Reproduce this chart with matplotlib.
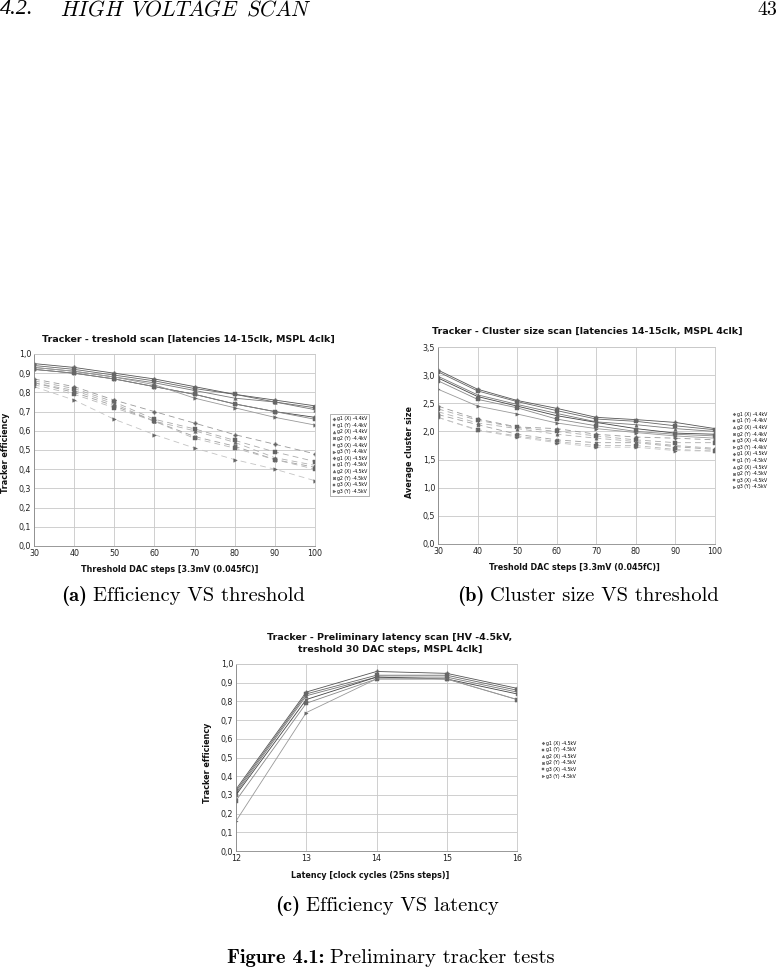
import matplotlib
matplotlib.use("Agg")
import matplotlib.pyplot as plt
from matplotlib.ticker import FuncFormatter, MultipleLocator

plt.rcParams["mathtext.fontset"] = "cm"

W, H = 777, 977

# ---- data: (a) efficiency vs threshold ----
thr = [30, 40, 50, 60, 70, 80, 90, 100]
labels_ab = ["g1 (X) -4.4kV", "g1 (Y) -4.4kV", "g2 (X) -4.4kV", "g2 (Y) -4.4kV",
             "g3 (X) -4.4kV", "g3 (Y) -4.4kV", "g1 (X) -4.5kV", "g1 (Y) -4.5kV",
             "g2 (X) -4.5kV", "g2 (Y) -4.5kV", "g3 (X) -4.5kV", "g3 (Y) -4.5kV"]

eff_44 = [
    [0.87, 0.83, 0.76, 0.70, 0.64, 0.58, 0.53, 0.48],
    [0.86, 0.82, 0.75, 0.66, 0.61, 0.55, 0.49, 0.44],
    [0.85, 0.81, 0.74, 0.65, 0.60, 0.54, 0.46, 0.42],
    [0.85, 0.80, 0.73, 0.65, 0.57, 0.52, 0.45, 0.41],
    [0.84, 0.79, 0.72, 0.65, 0.56, 0.51, 0.45, 0.40],
    [0.83, 0.76, 0.66, 0.58, 0.51, 0.45, 0.40, 0.34],
]
eff_45 = [
    [0.95, 0.93, 0.90, 0.87, 0.83, 0.79, 0.76, 0.73],
    [0.94, 0.92, 0.89, 0.86, 0.82, 0.79, 0.75, 0.72],
    [0.93, 0.91, 0.88, 0.85, 0.81, 0.77, 0.75, 0.71],
    [0.92, 0.90, 0.87, 0.83, 0.79, 0.74, 0.70, 0.67],
    [0.92, 0.90, 0.87, 0.83, 0.79, 0.74, 0.70, 0.66],
    [0.93, 0.91, 0.88, 0.84, 0.77, 0.72, 0.67, 0.63],
]

# ---- data: (b) cluster size vs threshold ----
cls_44 = [
    [2.45, 2.22, 2.08, 2.05, 1.95, 1.90, 1.88, 1.85],
    [2.40, 2.20, 2.07, 2.00, 1.92, 1.85, 1.80, 1.80],
    [2.35, 2.15, 2.05, 1.95, 1.88, 1.82, 1.75, 1.70],
    [2.30, 2.12, 1.95, 1.85, 1.80, 1.80, 1.73, 1.68],
    [2.25, 2.03, 1.92, 1.82, 1.75, 1.75, 1.68, 1.65],
    [2.25, 2.02, 1.90, 1.80, 1.72, 1.72, 1.66, 1.65],
]
cls_45 = [
    [3.09, 2.75, 2.55, 2.41, 2.25, 2.21, 2.16, 2.05],
    [3.06, 2.72, 2.53, 2.37, 2.22, 2.18, 2.10, 2.03],
    [2.98, 2.65, 2.48, 2.32, 2.17, 2.12, 2.05, 2.00],
    [2.95, 2.62, 2.45, 2.28, 2.16, 2.05, 1.97, 1.95],
    [2.90, 2.57, 2.42, 2.22, 2.10, 2.00, 1.95, 1.92],
    [2.75, 2.45, 2.31, 2.15, 2.05, 1.98, 1.92, 1.88],
]

# ---- data: (c) efficiency vs latency ----
lat = [12, 13, 14, 15, 16]
labels_c = ["g1 (X) -4.5kV", "g1 (Y) -4.5kV", "g2 (X) -4.5kV",
            "g2 (Y) -4.5kV", "g3 (X) -4.5kV", "g3 (Y) -4.5kV"]
eff_lat = [
    [0.33, 0.85, 0.96, 0.95, 0.87],
    [0.32, 0.84, 0.94, 0.94, 0.86],
    [0.31, 0.83, 0.93, 0.93, 0.85],
    [0.30, 0.81, 0.93, 0.92, 0.84],
    [0.27, 0.79, 0.92, 0.92, 0.81],
    [0.16, 0.74, 0.92, 0.92, 0.81],
]

markers = ["P", "s", "^", "X", "s", ">"]
dark = ["#555555", "#666666", "#777777", "#444444", "#888888", "#999999"]
light = ["#999999", "#aaaaaa", "#b0b0b0", "#a0a0a0", "#b8b8b8", "#c4c4c4"]

comma = FuncFormatter(lambda v, p: f"{v:.1f}".replace(".", ","))

TITLE_FS = 6.8
LABEL_FS = 5.8
CAP_FS = 14.8


def fx(px):
    return px / W


def fy(py):
    return 1 - py / H


def ax_at(x0, x1, y0, y1):
    return fig.add_axes([fx(x0), fy(y1), fx(x1) - fx(x0), fy(y0) - fy(y1)])


def style(ax):
    ax.grid(True, color="#c8c8c8", linewidth=0.6)
    ax.set_axisbelow(True)
    for s in ax.spines.values():
        s.set_color("#c8c8c8")
        s.set_linewidth(0.6)
    ax.spines["left"].set_color("#888888")
    ax.spines["bottom"].set_color("#888888")
    ax.tick_params(labelsize=5.8, length=0, pad=2, colors="#222222")
    ax.yaxis.set_major_formatter(comma)


def btext(px, py, s, fs, **kw):
    fig.text(fx(px), fy(py), s, fontsize=fs, weight="bold", ha="center",
             va="center", color="#111111", **kw)


fig = plt.figure(figsize=(W / 100, H / 100), dpi=100)

# page header
fig.text(fx(0), fy(10), "4.2.", fontsize=16, family="Liberation Serif",
         style="italic", va="center", ha="left")
fig.text(fx(60), fy(10), r"$\mathit{HIGH\ \,VOLTAGE\ \,SCAN}$", fontsize=15.5,
         va="center", ha="left")
fig.text(fx(777), fy(10), "43", fontsize=14.4, family="cmr10",
         va="center", ha="right")

# ---- (a) ----
ax = ax_at(34, 315, 354, 546)
lines = []
for i, ys in enumerate(eff_44):
    l, = ax.plot(thr, ys, color=light[i], lw=0.6, ls=(0, (7, 5)),
                 marker=markers[i], ms=2.6, mfc="#666666", mec="#666666", mew=0.3)
    lines.append(l)
for i, ys in enumerate(eff_45):
    l, = ax.plot(thr, ys, color=dark[i], lw=0.6,
                 marker=markers[i], ms=2.6, mfc="#666666", mec="#666666", mew=0.3)
    lines.append(l)
ax.set_xlim(30, 100)
ax.set_ylim(0, 1.0)
ax.yaxis.set_major_locator(MultipleLocator(0.1))
ax.xaxis.set_major_locator(MultipleLocator(10))
style(ax)
leg = ax.legend(lines, labels_ab, loc="upper left", bbox_to_anchor=(1.045, 0.70),
                fontsize=3.3, frameon=True, fancybox=False, edgecolor="#777777",
                handlelength=0.6, handletextpad=0.4, labelspacing=0.35,
                borderpad=0.5, markerscale=0.8)
leg.get_frame().set_linewidth(0.5)
for h in leg.legend_handles:
    h.set_linestyle("none")
btext(188, 339, "Tracker - treshold scan [latencies 14-15clk, MSPL 4clk]", TITLE_FS)
btext(6, 453, "Tracker efficiency", LABEL_FS, rotation=90)
btext(170, 569, "Threshold DAC steps [3.3mV (0.045fC)]", LABEL_FS)

# ---- (b) ----
ax = ax_at(438, 715, 347, 544)
lines = []
for i, ys in enumerate(cls_44):
    l, = ax.plot(thr, ys, color=light[i], lw=0.6, ls=(0, (7, 5)),
                 marker=markers[i], ms=2.4, mfc="#666666", mec="#666666", mew=0.3)
    lines.append(l)
for i, ys in enumerate(cls_45):
    l, = ax.plot(thr, ys, color=dark[i], lw=0.6,
                 marker=markers[i], ms=2.4, mfc="#666666", mec="#666666", mew=0.3)
    lines.append(l)
ax.set_xlim(30, 100)
ax.set_ylim(0, 3.5)
ax.yaxis.set_major_locator(MultipleLocator(0.5))
ax.xaxis.set_major_locator(MultipleLocator(10))
style(ax)
leg = ax.legend(lines, labels_ab, loc="upper left", bbox_to_anchor=(1.05, 0.69),
                fontsize=3.3, frameon=False, handlelength=0.6, handletextpad=0.4,
                labelspacing=0.35, borderpad=0.3, markerscale=0.8)
for h in leg.legend_handles:
    h.set_linestyle("none")
btext(587, 331, "Tracker - Cluster size scan [latencies 14-15clk, MSPL 4clk]", TITLE_FS)
btext(410, 452, "Average cluster size", LABEL_FS, rotation=90)
btext(574, 568, "Treshold DAC steps [3.3mV (0.045fC)]", LABEL_FS)

# ---- (c) ----
ax = ax_at(236, 517, 664, 851)
lines = []
for i, ys in enumerate(eff_lat):
    l, = ax.plot(lat, ys, color=dark[i], lw=0.6,
                 marker=markers[i], ms=2.4, mfc="#666666", mec="#666666", mew=0.3)
    lines.append(l)
ax.set_xlim(12, 16)
ax.set_ylim(0, 1.0)
ax.yaxis.set_major_locator(MultipleLocator(0.1))
ax.xaxis.set_major_locator(MultipleLocator(1))
style(ax)
leg = ax.legend(lines, labels_c, loc="upper left", bbox_to_anchor=(1.075, 0.61),
                fontsize=3.3, frameon=False, handlelength=0.6, handletextpad=0.4,
                labelspacing=0.35, borderpad=0.3, markerscale=0.8)
for h in leg.legend_handles:
    h.set_linestyle("none")
btext(390, 638, "Tracker - Preliminary latency scan [HV -4.5kV,", TITLE_FS)
btext(390, 650, "treshold 30 DAC steps, MSPL 4clk]", TITLE_FS)
btext(207, 763, "Tracker efficiency", LABEL_FS, rotation=90)
btext(370, 875, "Latency [clock cycles (25ns steps)]", LABEL_FS)


# captions: bold tag + roman text, centred as one group
def caption(cx, py, tag, rest, gap=6):
    r = fig.canvas.get_renderer()
    t1 = fig.text(0, fy(py), tag, fontsize=CAP_FS, family="cmb10", ha="left", va="center")
    t2 = fig.text(0, fy(py), rest, fontsize=CAP_FS, family="cmr10", ha="left", va="center")
    w1 = t1.get_window_extent(r).width
    w2 = t2.get_window_extent(r).width
    x0 = cx - (w1 + gap + w2) / 2
    t1.set_x(fx(x0))
    t2.set_x(fx(x0 + w1 + gap))


caption(183, 596, "(a)", "Efficiency VS threshold")
caption(588, 596, "(b)", "Cluster size VS threshold")
caption(387, 906, "(c)", "Efficiency VS latency")
caption(391, 958, "Figure 4.1:", "Preliminary tracker tests")

fig.savefig("out.png", dpi=100)
